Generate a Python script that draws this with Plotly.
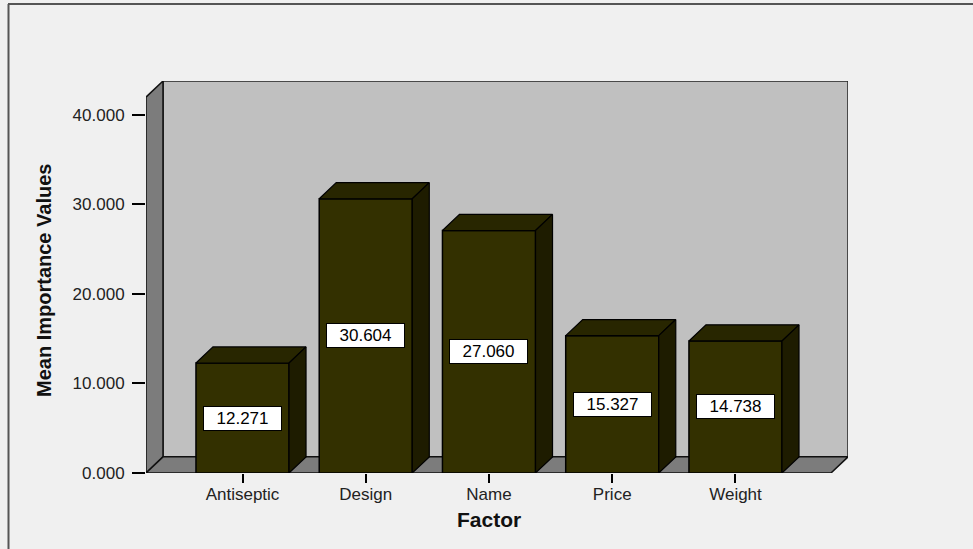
import plotly.graph_objects as go

# ---- data ----
categories = ["Antiseptic", "Design", "Name", "Price", "Weight"]
values = [12.271, 30.604, 27.060, 15.327, 14.738]
y_tickvals = [0, 10, 20, 30, 40]
x_title = "Factor"
y_title = "Mean Importance Values"

# ---- layout constants ----
W, H = 973, 549
ML, MR, MT, MB = 146, 125, 81, 76
PW, PH = W - ML - MR, H - MT - MB

DX, DY = 0.138, 1.8          # 3D depth offset in data units
WALL_H = 41.95
Y_MAX = WALL_H + DY
X_MIN, X_MAX = -0.783, 4.913
BAR_W = 0.755

FRONT = "#333000"
TOP = "#282600"
SIDE = "#1e1c00"
BACK_WALL = "#c0c0c0"
SIDE_WALL = "#7c7c7c"
BG = "#f0f0f0"
FONT = "Liberation Sans, Arial, sans-serif"


def px_x(p):
    return (p - ML) / PW


def px_y(p):
    return (H - MB - p) / PH


def poly(xs, ys):
    return "M " + " L ".join(f"{x},{y}" for x, y in zip(xs, ys)) + " Z"


idx = list(range(len(categories)))

fig = go.Figure()

# front faces of bars
fig.add_trace(go.Bar(
    x=idx, y=values, width=BAR_W,
    marker=dict(color=FRONT, line=dict(color="black", width=1.5)),
    hoverinfo="skip", showlegend=False,
))

# top and side faces
for c, v in zip(idx, values):
    l, r = c - BAR_W / 2, c + BAR_W / 2
    fig.add_trace(go.Scatter(
        x=[l, l + DX, r + DX, r, l], y=[v, v + DY, v + DY, v, v],
        mode="lines", fill="toself", fillcolor=TOP,
        line=dict(color="black", width=1.2), hoverinfo="skip", showlegend=False,
    ))
    fig.add_trace(go.Scatter(
        x=[r, r + DX, r + DX, r, r], y=[0, DY, v + DY, v, 0],
        mode="lines", fill="toself", fillcolor=SIDE,
        line=dict(color="black", width=1.2), hoverinfo="skip", showlegend=False,
    ))

shapes = []
# back wall
shapes.append(dict(type="path", xref="x", yref="y", layer="below",
                   path=poly([X_MIN + DX, X_MIN + DX, X_MAX, X_MAX],
                             [DY, Y_MAX, Y_MAX, DY]),
                   fillcolor=BACK_WALL, line=dict(color="#222", width=1.5)))
# left wall
shapes.append(dict(type="path", xref="x", yref="y", layer="below",
                   path=poly([X_MIN, X_MIN, X_MIN + DX, X_MIN + DX],
                             [0, WALL_H, Y_MAX, DY]),
                   fillcolor=SIDE_WALL, line=dict(color="#111", width=1.5)))
# floor
shapes.append(dict(type="path", xref="x", yref="y", layer="below",
                   path=poly([X_MIN, X_MAX - DX, X_MAX, X_MIN + DX],
                             [0, 0, DY, DY]),
                   fillcolor=SIDE_WALL, line=dict(color="#111", width=1.5)))
# outer frame (left and top edges)
shapes.append(dict(type="line", xref="paper", yref="paper",
                   x0=px_x(8.5), x1=px_x(8.5), y0=px_y(4), y1=px_y(H + 5),
                   line=dict(color="#555", width=2)))
shapes.append(dict(type="line", xref="paper", yref="paper",
                   x0=px_x(8), x1=px_x(W + 5), y0=px_y(4), y1=px_y(4),
                   line=dict(color="#555", width=2)))

annotations = []
for c, v in zip(idx, values):
    annotations.append(dict(
        x=c, y=v / 2, xref="x", yref="y", text=f"{v:.3f}", showarrow=False,
        bgcolor="white", bordercolor="black", borderwidth=1,
        width=75, height=21, font=dict(family=FONT, size=17, color="black"),
    ))

annotations.append(dict(
    x=px_x(488.5), y=px_y(519), xref="paper", yref="paper", text=f"<b>{x_title}</b>",
    showarrow=False, xanchor="center", yanchor="middle",
    font=dict(family=FONT, size=21, color="#111"),
))
annotations.append(dict(
    x=px_x(44), y=px_y(280), xref="paper", yref="paper", text=f"<b>{y_title}</b>",
    showarrow=False, xanchor="center", yanchor="middle", textangle=-90,
    font=dict(family=FONT, size=20, color="#111"),
))

fig.update_layout(
    width=W, height=H,
    margin=dict(l=ML, r=MR, t=MT, b=MB),
    paper_bgcolor=BG, plot_bgcolor=BG,
    shapes=shapes, annotations=annotations,
    showlegend=False,
    xaxis=dict(range=[X_MIN, X_MAX], tickvals=idx, ticktext=categories,
               ticks="outside", ticklen=9, tickwidth=1.5, tickcolor="black",
               showgrid=False, zeroline=False, showline=False, fixedrange=True,
               ticklabelstandoff=-3,
               tickfont=dict(family=FONT, size=17, color="#222")),
    yaxis=dict(range=[0, Y_MAX], tickvals=y_tickvals, tickformat=".3f",
               ticks="outside", ticklen=13, tickwidth=2, tickcolor="black",
               showgrid=False, zeroline=False, showline=False, fixedrange=True,
               ticklabelstandoff=4,
               tickfont=dict(family=FONT, size=17, color="#222")),
)

fig.write_html("out.html")
